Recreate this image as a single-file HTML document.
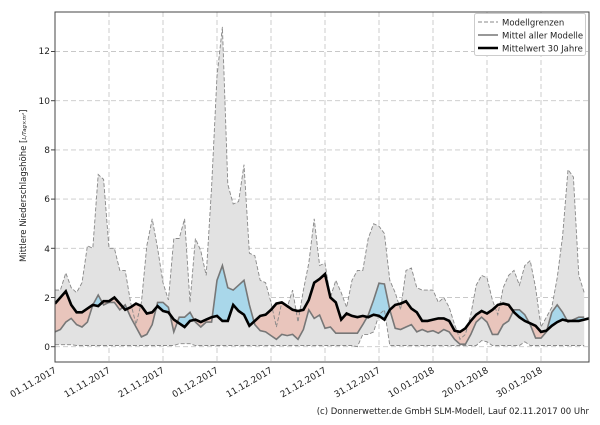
<!DOCTYPE html>
<html><head><meta charset="utf-8"><style>
body{margin:0;background:#fff;font-family:"Liberation Sans","DejaVu Sans",sans-serif}
svg text{font-family:"DejaVu Sans","Liberation Sans",sans-serif;fill:#222}
</style></head><body>
<svg id="s" width="600" height="420" viewBox="0 0 600 420" xmlns="http://www.w3.org/2000/svg">
<defs>
<clipPath id="plot"><rect x="55" y="12" width="534" height="350"/></clipPath>
<clipPath id="above"><path id="cA"/></clipPath>
<clipPath id="below"><path id="cB"/></clipPath>
</defs>
<g id="grid" stroke="#c8c8c8" stroke-dasharray="5,3" stroke-width="0.9"></g>
<g clip-path="url(#plot)">
<path id="band" fill="#e2e2e2" stroke="none"/>
<path id="blue" fill="#a9d7ea" clip-path="url(#above)"/>
<path id="red" fill="#e9c5bc" clip-path="url(#below)"/>
<path id="up" fill="none" stroke="#888" stroke-width="0.9" stroke-dasharray="4,2"/>
<path id="lo" fill="none" stroke="#888" stroke-width="0.9" stroke-dasharray="4,2"/>
<path id="mm" fill="none" stroke="#777" stroke-width="1.6"/>
<path id="bl" fill="none" stroke="#000" stroke-width="2.6"/>
</g>
<rect x="55" y="12" width="534" height="350" fill="none" stroke="#444" stroke-width="1"/>
<g font-size="9" text-anchor="end">
<text x="50" y="350">0</text><text x="50" y="301">2</text><text x="50" y="252">4</text>
<text x="50" y="202">6</text><text x="50" y="153">8</text><text x="50" y="104">10</text><text x="50" y="54">12</text>
</g>
<g stroke="#444"><line x1="51" x2="55" y1="346.7" y2="346.7"/><line x1="51" x2="55" y1="297.5" y2="297.5"/><line x1="51" x2="55" y1="248.3" y2="248.3"/><line x1="51" x2="55" y1="199.1" y2="199.1"/><line x1="51" x2="55" y1="149.9" y2="149.9"/><line x1="51" x2="55" y1="100.7" y2="100.7"/><line x1="51" x2="55" y1="51.5" y2="51.5"/></g>
<g font-size="9" text-anchor="end" id="xl">
<text transform="translate(57,372) rotate(-30)">01.11.2017</text>
<text transform="translate(111,372) rotate(-30)">11.11.2017</text>
<text transform="translate(165,372) rotate(-30)">21.11.2017</text>
<text transform="translate(219,372) rotate(-30)">01.12.2017</text>
<text transform="translate(273,372) rotate(-30)">11.12.2017</text>
<text transform="translate(327,372) rotate(-30)">21.12.2017</text>
<text transform="translate(381,372) rotate(-30)">31.12.2017</text>
<text transform="translate(435,372) rotate(-30)">10.01.2018</text>
<text transform="translate(489,372) rotate(-30)">20.01.2018</text>
<text transform="translate(543,372) rotate(-30)">30.01.2018</text>
</g>
<text transform="translate(26,262) rotate(-90)" font-size="8.5">Mittlere Niederschlagshöhe [<tspan font-size="5.5" font-style="italic">L/Tag×m²</tspan>]</text>
<g>
<rect x="474.5" y="13.5" width="111" height="42" fill="#fff" stroke="#ccc" rx="2"/>
<line x1="478" x2="498" y1="22" y2="22" stroke="#888" stroke-dasharray="4,2"/>
<line x1="478" x2="498" y1="35" y2="35" stroke="#777" stroke-width="1.6"/>
<line x1="478" x2="498" y1="48" y2="48" stroke="#000" stroke-width="2.6"/>
<text x="502" y="25.5" font-size="8.5">Modellgrenzen</text>
<text x="502" y="38.5" font-size="8.5">Mittel aller Modelle</text>
<text x="502" y="51.5" font-size="8.5">Mittelwert 30 Jahre</text>
</g>
<text x="589" y="414" font-size="8.5" text-anchor="end">(c) Donnerwetter.de GmbH SLM-Modell, Lauf 02.11.2017 00 Uhr</text>
</svg>
<script>
var U=[2.3,2.3,3.0,2.4,2.2,2.6,4.1,4.0,7.0,6.8,4.0,4.0,3.1,3.1,1.8,0.9,1.8,4.1,5.2,4.0,2.6,1.9,4.4,4.4,5.2,1.8,4.4,3.9,2.9,6.5,11.0,13.0,6.6,5.8,5.9,7.4,3.8,3.7,2.7,2.6,1.8,0.8,1.8,1.6,2.3,1.0,2.3,3.4,5.2,3.3,3.4,2.0,2.7,2.2,1.6,2.7,3.1,3.1,4.4,5.0,4.9,4.6,2.7,2.2,1.5,3.1,3.2,2.4,2.3,2.3,2.3,1.8,2.0,1.6,0.9,0.3,0.5,1.3,2.5,2.9,2.8,1.9,1.3,2.4,2.9,3.1,2.5,3.3,3.5,2.4,0.8,1.2,1.6,2.8,4.5,7.2,6.9,2.9,2.2];
var L=[];for(var i=0;i<99;i++)L.push(0.05);
[0,1,2,3].forEach(function(i){L[i]=0.08});[23,24,25].forEach(function(i){L[i]=0.12});
L[56]=0;L[57]=0.5;L[58]=0.5;L[59]=0.6;L[60]=1.3;L[61]=1.5;L[62]=0.05;L[79]=0.25;L[80]=0.2;L[87]=0.2;
var M=[0.6,0.7,1.0,1.15,0.9,0.8,1.0,1.7,2.1,1.7,1.8,1.8,1.5,1.7,1.2,0.8,0.4,0.5,0.9,1.8,1.8,1.6,0.6,1.2,1.2,1.4,1.0,0.8,1.0,1.0,2.7,3.3,2.4,2.3,2.5,2.7,1.7,0.9,0.65,0.6,0.45,0.3,0.5,0.45,0.5,0.3,0.7,1.5,1.15,1.29,0.75,0.8,0.55,0.55,0.55,0.55,0.55,0.9,1.28,1.9,2.58,2.55,1.5,0.75,0.7,0.8,0.9,0.6,0.7,0.6,0.65,0.55,0.7,0.6,0.3,0.1,0.1,0.5,1.0,1.2,1.0,0.5,0.5,0.9,1.05,1.5,1.5,1.3,0.9,0.35,0.35,0.6,1.4,1.7,1.4,1.0,1.1,1.2,1.2];
var B=[1.75,2.0,2.25,1.7,1.4,1.4,1.55,1.7,1.65,1.85,1.85,2.0,1.75,1.5,1.6,1.75,1.65,1.35,1.4,1.65,1.45,1.4,1.1,0.95,0.8,1.05,1.1,1.0,1.1,1.2,1.25,1.05,1.05,1.7,1.45,1.3,0.85,1.05,1.25,1.3,1.5,1.75,1.8,1.65,1.5,1.45,1.5,1.9,2.6,2.75,2.95,2.0,1.8,1.1,1.35,1.25,1.2,1.25,1.2,1.3,1.25,1.1,1.5,1.7,1.75,1.85,1.55,1.4,1.05,1.05,1.1,1.15,1.15,1.05,0.65,0.6,0.75,1.05,1.3,1.45,1.35,1.5,1.7,1.75,1.7,1.4,1.2,1.05,0.95,0.85,0.6,0.65,0.85,1.0,1.1,1.05,1.05,1.05,1.1,1.15];
function X(d){return Math.min(55+5.4*d,589)}function Y(v){return 346.7-24.6*v}
function pts(a){return a.map(function(v,i){return X(i).toFixed(1)+','+Y(v).toFixed(1)})}
function line(a){return 'M'+pts(a).join('L')}
var n=99,xe=X(n-1);
document.getElementById('up').setAttribute('d',line(U));
document.getElementById('lo').setAttribute('d',line(L));
document.getElementById('mm').setAttribute('d',line(M));
document.getElementById('bl').setAttribute('d',line(B));
document.getElementById('band').setAttribute('d',line(U)+'L'+pts(L).reverse().join('L')+'Z');
document.getElementById('cA').setAttribute('d',line(B)+'L'+xe+',0L55,0Z');
document.getElementById('cB').setAttribute('d',line(B)+'L'+xe+',420L55,420Z');
document.getElementById('blue').setAttribute('d',line(M)+'L'+xe+',420L55,420Z');
document.getElementById('red').setAttribute('d',line(M)+'L'+xe+',0L55,0Z');
var g=document.getElementById('grid'),h='';
[0,2,4,6,8,10,12].forEach(function(v){h+='<line x1="55" x2="589" y1="'+Y(v)+'" y2="'+Y(v)+'"/>'});
for(var k=1;k<10;k++){var x=55+54*k;h+='<line x1="'+x+'" x2="'+x+'" y1="12" y2="362"/>'}
g.innerHTML=h;
</script>
</body></html>
